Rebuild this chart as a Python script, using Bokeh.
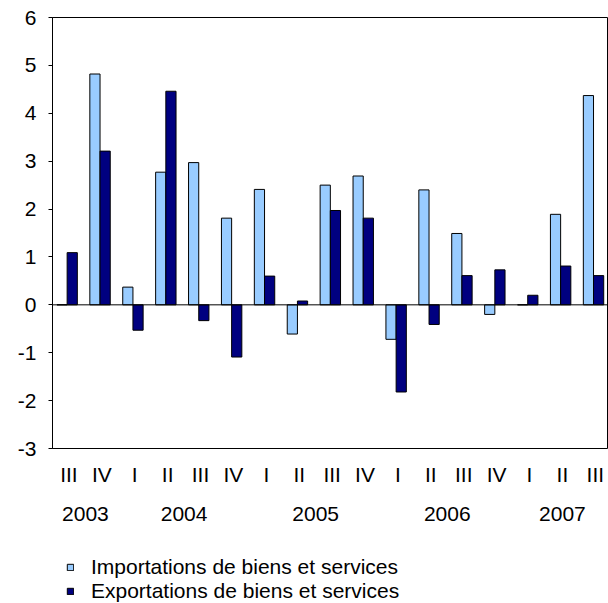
import numpy as np
from bokeh.plotting import figure
from bokeh.layouts import column
from bokeh.models import (Range1d, FixedTicker, LinearAxis, CustomJSTickFormatter,
                          Span, Legend, LegendItem, ColumnDataSource)
from bokeh.embed import file_html
from bokeh.resources import INLINE

# ---- data ----
years = ["2003", "2004", "2005", "2006", "2007"]
quarters_per_year = [2, 4, 4, 4, 3]
quarters = ["III", "IV", "I", "II", "III", "IV", "I", "II", "III", "IV",
            "I", "II", "III", "IV", "I", "II", "III"]
imports = [0.0, 4.82, 0.37, 2.77, 2.97, 1.81, 2.41, -0.61, 2.50, 2.69,
           -0.72, 2.40, 1.49, -0.20, 0.0, 1.89, 4.37]
exports = [1.09, 3.21, -0.53, 4.46, -0.33, -1.09, 0.60, 0.08, 1.97, 1.81,
           -1.82, -0.41, 0.61, 0.73, 0.20, 0.81, 0.61]
y_ticks = [-3, -2, -1, 0, 1, 2, 3, 4, 5, 6]
series_names = ["Importations de biens et services",
                "Exportations de biens et services"]

FONT = "Liberation Sans"
FS = "21px"
LIGHT = "#99CCFF"
DARK = "#000080"

n = len(quarters)
xc = np.arange(n) + 0.5
counts = np.array(quarters_per_year)
starts = np.concatenate([[0], np.cumsum(counts)[:-1]])
year_centers = list(starts + counts / 2.0)

src = ColumnDataSource(dict(xi=xc - 0.21, xe=xc + 0.10, imp=imports, exp=exports))

p = figure(width=608, height=548,
           x_range=Range1d(0, n - 0.1),
           y_range=Range1d(y_ticks[0], y_ticks[-1]),
           output_backend="svg", toolbar_location=None,
           x_axis_location=None,
           min_border_top=17, min_border_left=52, min_border_right=0,
           min_border_bottom=100)

p.xgrid.visible = False
p.ygrid.visible = False
p.outline_line_color = "#000000"
p.outline_line_width = 1
p.background_fill_color = "white"
p.border_fill_color = "white"

r1 = p.vbar(x="xi", top="imp", width=0.31, source=src,
            fill_color=LIGHT, line_color="#000000", line_width=1)
r2 = p.vbar(x="xe", top="exp", width=0.31, source=src,
            fill_color=DARK, line_color="#000000", line_width=1)

p.add_layout(Span(location=0, dimension="width", line_color="#000000", line_width=1))

# y axis
ya = p.yaxis[0]
ya.ticker = FixedTicker(ticks=y_ticks)
ya.formatter = CustomJSTickFormatter(code="return String(tick);")
ya.major_tick_out = 4
ya.major_tick_in = 0
ya.minor_tick_line_color = None
ya.axis_line_color = "#000000"
ya.major_tick_line_color = "#000000"
ya.major_label_standoff = 12
ya.major_label_text_font = FONT
ya.major_label_text_font_size = FS
ya.major_label_text_color = "#000000"

# quarter axis
qaxis = LinearAxis(
    ticker=FixedTicker(ticks=list(xc)),
    formatter=CustomJSTickFormatter(args=dict(labels=quarters),
                                    code="return labels[index];"),
    axis_line_color=None, major_tick_line_color=None,
    minor_tick_line_color=None, major_label_standoff=8,
    major_label_text_font=FONT, major_label_text_font_size=FS,
    major_label_text_color="#000000")
p.add_layout(qaxis, "below")

# year axis
yaxis2 = LinearAxis(
    ticker=FixedTicker(ticks=year_centers),
    formatter=CustomJSTickFormatter(args=dict(labels=years),
                                    code="return labels[index];"),
    axis_line_color=None, major_tick_line_color=None,
    minor_tick_line_color=None, major_label_standoff=12,
    major_label_text_font=FONT, major_label_text_font_size=FS,
    major_label_text_color="#000000")
p.add_layout(yaxis2, "below")

# ---- legend strip below the chart (same series, viewed out of range) ----
pl = figure(width=608, height=55, x_range=Range1d(-2, -1), y_range=Range1d(0, 1),
            output_backend="svg", toolbar_location=None,
            x_axis_location=None, y_axis_location=None,
            min_border_left=0, min_border_right=0,
            min_border_top=0, min_border_bottom=0)
pl.xgrid.visible = False
pl.ygrid.visible = False
pl.outline_line_color = None
pl.border_fill_color = "white"
l1 = pl.vbar(x="xi", top="imp", width=0.31, source=src,
             fill_color=LIGHT, line_color="#000000", line_width=1)
l2 = pl.vbar(x="xe", top="exp", width=0.31, source=src,
             fill_color=DARK, line_color="#000000", line_width=1)

legend = Legend(items=[LegendItem(label=series_names[0], renderers=[l1]),
                       LegendItem(label=series_names[1], renderers=[l2])],
                location=(14, 0), orientation="vertical",
                glyph_width=8, glyph_height=8, label_standoff=17,
                spacing=-3, padding=0, margin=0,
                border_line_color=None, background_fill_alpha=0,
                label_text_font=FONT, label_text_font_size=FS,
                label_text_color="#000000")
pl.add_layout(legend, "center")

layout = column(p, pl, spacing=0)
open("out.html", "w").write(file_html(layout, INLINE))
